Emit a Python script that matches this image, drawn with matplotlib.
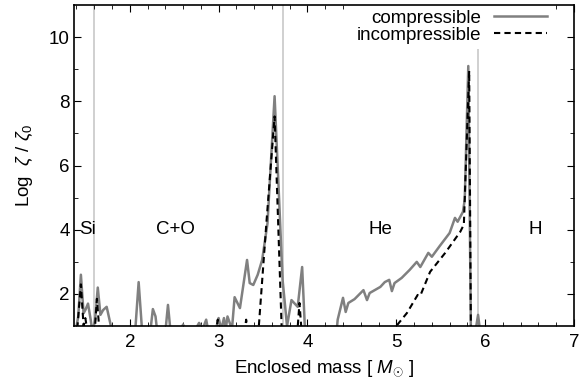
import matplotlib.pyplot as plt

plt.rcParams['font.family'] = ['Liberation Sans', 'DejaVu Sans']
plt.rcParams['mathtext.fontset'] = 'custom'
plt.rcParams['mathtext.it'] = 'Liberation Sans:italic'
plt.rcParams['mathtext.rm'] = 'Liberation Sans'

# compressible (grey solid)
mass_c = [1.37, 1.42, 1.45, 1.48, 1.50, 1.53, 1.56, 1.58, 1.61, 1.64, 1.67, 1.70,
          1.74, 1.78, 1.82, 2.06, 2.10, 2.14, 2.23, 2.26, 2.29, 2.31, 2.40, 2.43,
          2.46, 2.58, 2.60, 2.62, 2.74, 2.78, 2.82, 2.86, 2.88, 2.97, 3.00, 3.03,
          3.06, 3.08, 3.10, 3.15, 3.18, 3.24, 3.32, 3.35, 3.39, 3.44, 3.49, 3.55,
          3.63, 3.68, 3.72, 3.77, 3.82, 3.89, 3.94, 3.97, 4.00, 4.32, 4.34, 4.40,
          4.43, 4.46, 4.53, 4.63, 4.67, 4.70, 4.82, 4.87, 4.92, 4.95, 4.98, 5.06,
          5.15, 5.23, 5.27, 5.36, 5.40, 5.49, 5.60, 5.66, 5.69, 5.75, 5.77, 5.81,
          5.84, 5.87, 5.90, 5.92, 5.94]
zeta_c = [0.5, 1.3, 2.6, 1.4, 1.5, 1.7, 1.2, 0.8, 1.2, 2.2, 1.35, 1.5,
          1.6, 1.1, 0.6, 0.8, 2.37, 0.8, 0.8, 1.53, 1.3, 0.8, 0.8, 1.66,
          0.8, 0.9, 1.05, 0.9, 0.9, 1.1, 0.9, 1.2, 0.9, 0.9, 1.25, 0.9,
          1.25, 0.9, 1.3, 0.9, 1.9, 1.56, 3.06, 2.34, 2.28, 2.6, 3.06, 4.2,
          8.16, 5.0, 2.44, 1.0, 1.81, 1.6, 2.84, 1.0, 0.6, 0.6, 1.2, 1.88,
          1.44, 1.72, 1.84, 2.12, 1.81, 2.03, 2.22, 2.37, 2.44, 2.09, 2.34, 2.5,
          2.75, 3.0, 2.84, 3.28, 3.16, 3.5, 3.9, 4.37, 4.25, 4.56, 4.94, 9.1,
          0.6, 0.6, 1.0, 1.35, 0.9]

# incompressible (black dashed)
mass_i = [1.40, 1.45, 1.48, 1.50, 1.52, 1.55, 1.60, 1.63, 1.66, 1.70, 2.97, 2.99,
          3.01, 3.29, 3.31, 3.33, 3.45, 3.54, 3.63, 3.71, 3.74, 3.88, 3.91, 3.94,
          4.97, 5.12, 5.24, 5.27, 5.38, 5.55, 5.72, 5.76, 5.82, 5.84, 5.86]
zeta_i = [0.6, 2.3, 1.0, 1.25, 0.9, 0.6, 0.6, 1.85, 0.8, 0.6, 0.8, 1.2,
          0.8, 0.8, 1.2, 0.8, 0.9, 4.3, 7.53, 0.9, 0.6, 0.6, 1.72, 0.6,
          0.9, 1.41, 1.97, 1.95, 2.69, 3.28, 3.94, 4.16, 8.95, 0.6, 0.6]

boundaries = [1.6, 3.73, 5.92]
labels = ['Si', 'C+O', 'He', 'H']
label_x = [1.52, 2.51, 4.82, 6.56]

fs = 13.5
fig = plt.figure(figsize=(5.81, 3.85), dpi=100)
ax = fig.add_axes([0.127, 0.153, 0.861, 0.834])

for b in boundaries:
    ax.axvline(b, color='#c8c8c8', lw=1.2, zorder=1)

ax.plot(mass_c, zeta_c, color='#808080', lw=1.8, label='compressible', zorder=2)
ax.plot(mass_i, zeta_i, color='black', lw=1.5, ls=(0, (3, 2)),
        label='incompressible', zorder=2.1)

for lx, lab in zip(label_x, labels):
    ax.text(lx, 4, lab, ha='center', va='center', fontsize=fs, zorder=2.2)

ax.set_xlim(1.37, 7)
ax.set_ylim(1, 11)
ax.set_xticks([2, 3, 4, 5, 6, 7])
ax.set_yticks([2, 4, 6, 8, 10])
ax.set_xticks([x / 5 for x in range(7, 35)], minor=True)
ax.set_yticks([3, 5, 7, 9], minor=True)
ax.tick_params(which='both', direction='in', top=True, right=True, labelsize=fs)
ax.tick_params(which='major', length=5)
ax.tick_params(which='minor', length=3)
ax.tick_params(axis='x', which='major', pad=6)
ax.tick_params(axis='y', which='major', pad=3)
for s in ax.spines.values():
    s.set_linewidth(1.2)

ax.set_xlabel(r'Enclosed mass [ $M_{\odot}$ ]', fontsize=fs, labelpad=5)
ax.set_ylabel(r'Log  $\zeta$ / $\zeta_0$', fontsize=fs, labelpad=10)

leg = ax.legend(loc='upper right', frameon=True, markerfirst=False, fontsize=fs,
                handlelength=2.8, borderaxespad=0.0, labelspacing=0.0,
                borderpad=0.25, handletextpad=0.7, bbox_to_anchor=(0.955, 1.0))
leg.get_frame().set_edgecolor('none')
leg.get_frame().set_alpha(1)
leg._legend_box.align = 'right'
leg.set_zorder(2.4)

fig.savefig('out.png', dpi=100)
